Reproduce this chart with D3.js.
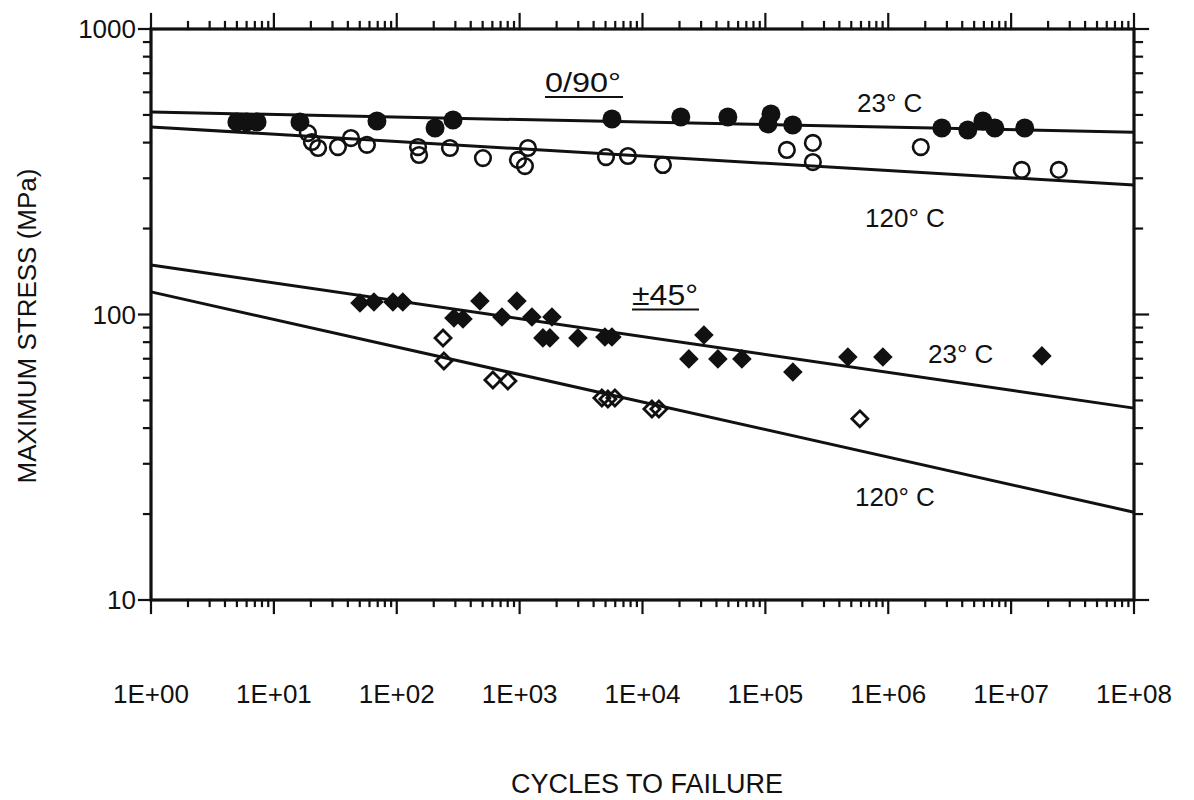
<!DOCTYPE html>
<html>
<head>
<meta charset="utf-8">
<script src="https://cdn.jsdelivr.net/npm/d3@7"></script>
<style>
  body { margin: 0; background: #fff; }
  svg { display: block; }
  text { font-family: "Liberation Sans", Arial, Helvetica, sans-serif; fill: #111; }
</style>
</head>
<body>
<svg id="chart" width="1194" height="800"></svg>
<script>
// Axis ticks and labels
const cycleTicks = [1, 1e1, 1e2, 1e3, 1e4, 1e5, 1e6, 1e7, 1e8];
const cycleTickLabels = ["1E+00", "1E+01", "1E+02", "1E+03", "1E+04", "1E+05", "1E+06", "1E+07", "1E+08"];
const stressTicks = [10, 100, 1000];
const stressTickLabels = ["10", "100", "1000"];

// 0/90° laminate, 23 °C (filled circles): [cycles, max stress MPa]
const ply090At23 = [
  [5.0, 472], [6.0, 472], [7.3, 472], [16.3, 472], [69, 476], [205, 450], [287, 480],
  [5640, 484], [20500, 492], [49500, 492], [111000, 504], [105000, 465], [167000, 461],
  [2.73e6, 450], [4.44e6, 443], [5.89e6, 476], [7.37e6, 450], [1.29e7, 450]
];
// 0/90° laminate, 120 °C (open circles)
const ply090At120 = [
  [18.9, 432], [20.4, 402], [22.9, 383], [33.2, 386], [42.4, 415], [57.2, 393],
  [149, 386], [152, 362], [271, 383], [503, 353], [969, 348], [1168, 383], [1104, 331],
  [5040, 356], [7610, 359], [14660, 334], [149600, 377], [243500, 399], [243500, 342],
  [1.84e6, 386], [1.22e7, 321], [2.44e7, 321]
];
// ±45° laminate, 23 °C (filled diamonds)
const ply45At23 = [
  [50.2, 109.7], [65.2, 110.6], [93.1, 110.6], [112, 110.6], [292, 97.2], [346, 96.4],
  [475, 111.5], [718, 98.0], [951, 111.5], [1259, 98.0], [1832, 98.0], [1547, 82.8],
  [1764, 82.8], [2981, 82.8], [4943, 83.4], [5637, 83.4], [31600, 84.8], [23850, 69.9],
  [41070, 69.9], [64400, 69.9], [167400, 62.9], [469000, 71.0], [904000, 71.0], [1.78e7, 71.6]
];
// ±45° laminate, 120 °C (open diamonds)
const ply45At120 = [
  [238, 82.8], [242, 68.7], [606, 59.0], [803, 58.5], [4673, 51.0], [5229, 50.6],
  [5963, 51.0], [11930, 46.7], [13600, 46.7], [587000, 43.1]
];

// Fitted S-N lines, end points at 1 and 1E+08 cycles
const fit090At23 = [[1, 512], [1e8, 435]];
const fit090At120 = [[1, 454], [1e8, 284]];
const fit45At23 = [[1, 149], [1e8, 47]];
const fit45At120 = [[1, 120], [1e8, 20.3]];

const svg = d3.select("#chart");
const x = d3.scaleLog().domain([1, 1e8]).range([151, 1134]);
const y = d3.scaleLog().domain([10, 1000]).range([600, 29]);

const ink = "#111";

// minor tick values (2..9 within each decade)
function minorTicks(lo, hi) {
  const out = [];
  for (let d = lo; d < hi; d *= 10) for (let k = 2; k <= 9; k++) out.push(k * d);
  return out;
}
const xMinor = minorTicks(1, 1e8);
const yMinor = minorTicks(10, 1000);

const axes = svg.append("g").attr("stroke", ink).attr("stroke-linecap", "square");

// bottom and top ticks point outward
function xTicks(vals, y0, len) {
  axes.append("g").attr("stroke-width", 2.2).selectAll("line").data(vals).join("line")
    .attr("x1", d => x(d)).attr("x2", d => x(d))
    .attr("y1", y0).attr("y2", y0 + len);
}
xTicks(xMinor, y(10), 6);
xTicks(cycleTicks, y(10), 13);
xTicks(xMinor, y(1000), -7);
xTicks(cycleTicks, y(1000), -15);

function yTicks(vals, x0, len) {
  axes.append("g").attr("stroke-width", 2.2).selectAll("line").data(vals).join("line")
    .attr("y1", d => y(d)).attr("y2", d => y(d))
    .attr("x1", x0).attr("x2", x0 + len);
}
yTicks(yMinor, x(1), -7);
yTicks(stressTicks, x(1), -12);
yTicks(yMinor, x(1e8), 8);
yTicks(stressTicks, x(1e8), 14);

// frame
axes.append("rect")
  .attr("x", x(1)).attr("y", y(1000))
  .attr("width", x(1e8) - x(1)).attr("height", y(10) - y(1000))
  .attr("fill", "none").attr("stroke-width", 3.2);

// tick labels
svg.append("g").selectAll("text").data(stressTicks).join("text")
  .attr("x", x(1) - 15).attr("y", d => y(d)).attr("dy", "0.35em")
  .attr("text-anchor", "end").attr("font-size", 26)
  .text((d, i) => stressTickLabels[i]);

svg.append("g").selectAll("text").data(cycleTicks).join("text")
  .attr("x", d => x(d)).attr("y", 703)
  .attr("text-anchor", "middle").attr("font-size", 26)
  .text((d, i) => cycleTickLabels[i]);

// axis titles
svg.append("text")
  .attr("x", 647).attr("y", 793).attr("text-anchor", "middle").attr("font-size", 27)
  .text("CYCLES TO FAILURE");
svg.append("text")
  .attr("transform", "translate(36,326) rotate(-90)")
  .attr("text-anchor", "middle").attr("font-size", 26)
  .text("MAXIMUM STRESS (MPa)");

// fitted lines
const line = d3.line().x(d => x(d[0])).y(d => y(d[1]));
svg.append("g").selectAll("path")
  .data([fit090At23, fit090At120, fit45At23, fit45At120]).join("path")
  .attr("d", line).attr("fill", "none").attr("stroke", ink).attr("stroke-width", 3);

// markers
const diamond = r => `M0,${-r}L${r},0L0,${r}L${-r},0Z`;

svg.append("g").selectAll("circle").data(ply090At120).join("circle")
  .attr("cx", d => x(d[0])).attr("cy", d => y(d[1])).attr("r", 7.8)
  .attr("fill", "none").attr("stroke", ink).attr("stroke-width", 2.6);

svg.append("g").selectAll("circle").data(ply090At23).join("circle")
  .attr("cx", d => x(d[0])).attr("cy", d => y(d[1])).attr("r", 9.5)
  .attr("fill", ink);

svg.append("g").selectAll("path").data(ply45At120).join("path")
  .attr("transform", d => `translate(${x(d[0])},${y(d[1])})`)
  .attr("d", diamond(8)).attr("fill", "none").attr("stroke", ink).attr("stroke-width", 2.8);

svg.append("g").selectAll("path").data(ply45At23).join("path")
  .attr("transform", d => `translate(${x(d[0])},${y(d[1])})`)
  .attr("d", diamond(9.8)).attr("fill", ink);

// group and temperature annotations
const notes = svg.append("g").attr("font-size", 26);
notes.append("text").attr("x", 545).attr("y", 92).attr("font-size", 28)
  .attr("textLength", 76).attr("lengthAdjust", "spacingAndGlyphs").text("0/90°");
notes.append("line").attr("x1", 545).attr("x2", 623).attr("y1", 97).attr("y2", 97)
  .attr("stroke", ink).attr("stroke-width", 2);
notes.append("text").attr("x", 632).attr("y", 305).attr("font-size", 29)
  .attr("textLength", 66).attr("lengthAdjust", "spacingAndGlyphs").text("±45°");
notes.append("line").attr("x1", 632).attr("x2", 699).attr("y1", 309.5).attr("y2", 309.5)
  .attr("stroke", ink).attr("stroke-width", 2);
notes.append("text").attr("x", 857).attr("y", 112).text("23° C");
notes.append("text").attr("x", 865).attr("y", 227).text("120° C");
notes.append("text").attr("x", 928).attr("y", 363).text("23° C");
notes.append("text").attr("x", 855).attr("y", 506).text("120° C");
</script>
</body>
</html>
